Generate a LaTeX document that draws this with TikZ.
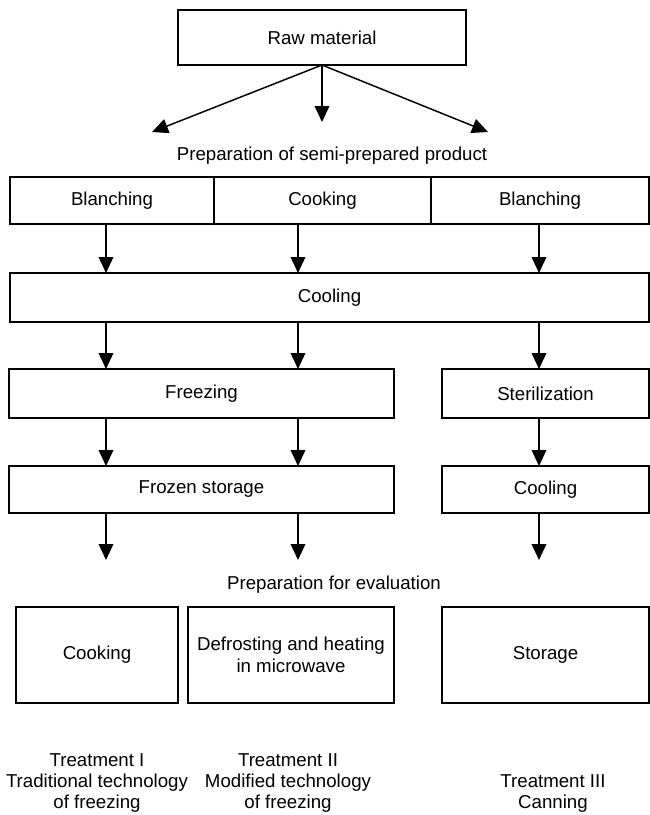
\documentclass[tikz,border=0pt]{standalone}
\usepackage{fontspec}
\setmainfont{Liberation Sans}
\usetikzlibrary{arrows.meta}
\newcommand\flowbox[6]{\node[box, minimum width={(#4-#2)*0.75pt}, minimum height={(#5-#3)*0.75pt}] (#1) at ({(#2+#4)/2},{(#3+#5)/2}) {#6};}
\begin{document}
\begin{tikzpicture}[x=0.75pt,y=-0.75pt,
  box/.style={draw, line width=1.3pt, inner sep=0pt, outer sep=0pt, align=center, font=\fontsize{14}{16.5}\selectfont},
  lbl/.style={inner sep=0pt, align=center, font=\fontsize{14}{15.75}\selectfont},
  arr/.style={line width=1.1pt, -{Triangle[length=12pt,width=11pt]}}]
\useasboundingbox (0,0) rectangle (650,815);
% column coordinates
\coordinate (c1) at (106,0);
\coordinate (c2) at (298,0);
\coordinate (c3) at (539,0);
% boxes
\flowbox{raw}{178}{10}{466}{65}{Raw material}
\node[lbl] (prep1) at (332,156) {Preparation of semi-prepared product};
\flowbox{blA}{10}{177}{214}{224}{Blanching}
\flowbox{cookA}{214}{177}{431}{224}{Cooking}
\flowbox{blB}{431}{177}{649}{224}{Blanching}
\flowbox{cool}{10}{273}{649}{322}{Cooling}
\flowbox{freeze}{9}{369}{394}{418}{Freezing}
\flowbox{steril}{442}{369}{649}{418}{Sterilization}
\flowbox{frozen}{9}{466}{394}{513}{Frozen storage}
\flowbox{coolB}{442}{466}{649}{513}{Cooling}
\node[lbl] (prep2) at (334,585) {Preparation for evaluation};
\flowbox{cookB}{16}{607}{178}{703}{Cooking}
\flowbox{defrost}{188}{607}{394}{703}{Defrosting and heating\\in microwave}
\flowbox{storage}{442}{607}{649}{703}{Storage}
\node[lbl] (t1) at (97,783) {Treatment I\\Traditional technology\\of freezing};
\node[lbl] (t2) at (288,783) {Treatment II\\Modified technology\\of freezing};
\node[lbl] (t3) at (553,793.5) {Treatment III\\Canning};
% arrows from raw material
\coordinate (r1) at (152,132);
\coordinate (r2) at (322,122);
\coordinate (r3) at (488,132);
\draw[arr] (raw.south) -- (r1);
\draw[arr] (raw.south) -- (r2);
\draw[arr] (raw.south) -- (r3);
% row 1 to cooling
\draw[arr] (blA.south -| c1) -- (cool.north -| c1);
\draw[arr] (cookA.south -| c2) -- (cool.north -| c2);
\draw[arr] (blB.south -| c3) -- (cool.north -| c3);
% cooling to freezing / sterilization
\draw[arr] (cool.south -| c1) -- (freeze.north -| c1);
\draw[arr] (cool.south -| c2) -- (freeze.north -| c2);
\draw[arr] (cool.south -| c3) -- (steril.north -| c3);
% to frozen storage / cooling
\draw[arr] (freeze.south -| c1) -- (frozen.north -| c1);
\draw[arr] (freeze.south -| c2) -- (frozen.north -| c2);
\draw[arr] (steril.south -| c3) -- (coolB.north -| c3);
% free ends
\coordinate (e1) at (106,560);
\coordinate (e2) at (298,560);
\coordinate (e3) at (539,560);
\draw[arr] (frozen.south -| c1) -- (e1);
\draw[arr] (frozen.south -| c2) -- (e2);
\draw[arr] (coolB.south -| c3) -- (e3);
\end{tikzpicture}
\end{document}
